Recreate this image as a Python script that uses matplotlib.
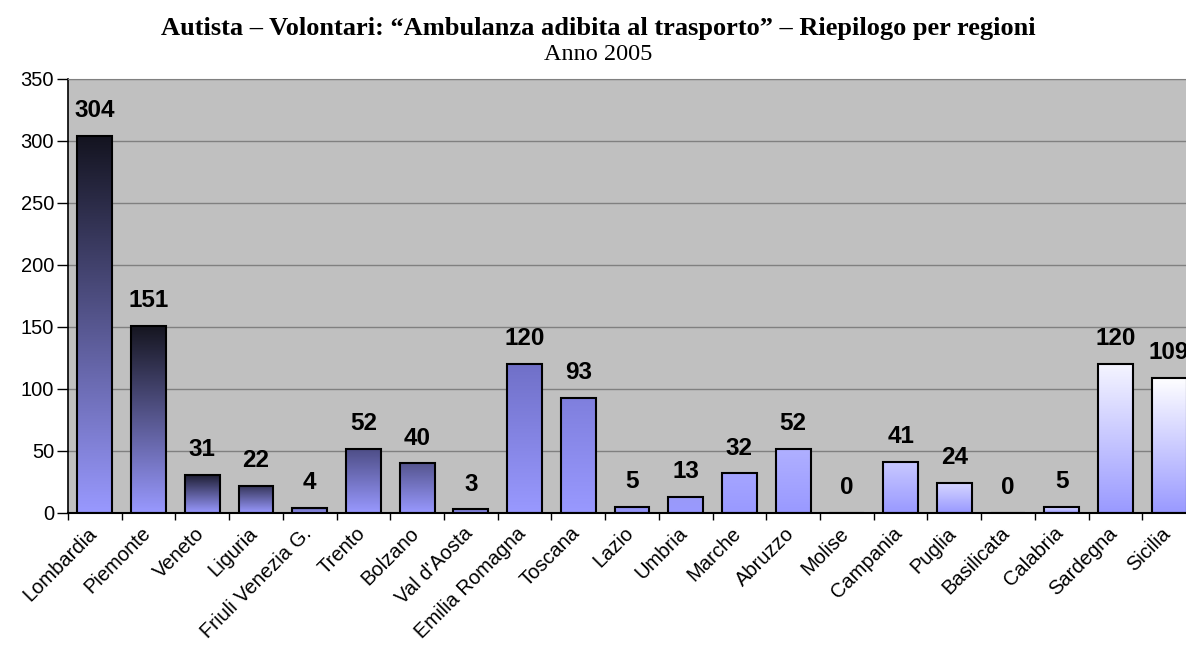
import numpy as np
import matplotlib
matplotlib.use("Agg")
import matplotlib.pyplot as plt
import matplotlib.transforms as mtransforms
from matplotlib.colors import LinearSegmentedColormap

regions = ["Lombardia", "Piemonte", "Veneto", "Liguria", "Friuli Venezia G.",
           "Trento", "Bolzano", "Val d'Aosta", "Emilia Romagna", "Toscana",
           "Lazio", "Umbria", "Marche", "Abruzzo", "Molise", "Campania",
           "Puglia", "Basilicata", "Calabria", "Sardegna", "Sicilia"]
values = [304, 151, 31, 22, 4, 52, 40, 3, 120, 93, 5, 13, 32, 52, 0, 41, 24, 0, 5, 120, 109]
yticks = [0, 50, 100, 150, 200, 250, 300, 350]

# colour at the top of each bar (bottom is always light blue)
top_colors = ["#141420", "#15151f", "#1c1c30", "#333355", "#6a6ab0",
              "#4d4d85", "#55558f", "#7070c0", "#7070c8", "#7f7fdd",
              "#9090ee", "#9a9af8", "#a5a5ff", "#b0b0ff", "#bbbbff",
              "#c8c8ff", "#d5d5ff", "#dcdcff", "#e6e6ff", "#f5f5ff", "#ffffff"]
bottom_color = "#9999ff"

plt.rcParams['font.family'] = ['Liberation Sans', 'DejaVu Sans']

fig = plt.figure(figsize=(11.86, 6.66), dpi=100)
ax = fig.add_axes([68/1186, 1-513/666, (1196-68)/1186, (513-79)/666])
ax.set_facecolor("#c0c0c0")

x = np.arange(len(regions))
bars = ax.bar(x, values, width=0.65, color="none", edgecolor="black", linewidth=1.5, zorder=3)

grad = np.linspace(0, 1, 256).reshape(-1, 1)
for b, tc in zip(bars, top_colors):
    h = b.get_height()
    if h <= 0:
        continue
    cmap = LinearSegmentedColormap.from_list("g", [bottom_color, tc])
    im = ax.imshow(grad, cmap=cmap, origin="lower", aspect="auto",
                   extent=[b.get_x(), b.get_x() + b.get_width(), 0, h], zorder=2)
    im.set_clip_path(b)

for xi, v in zip(x, values):
    ax.annotate(str(v), (xi, v), xytext=(0, 13.5), textcoords="offset points",
                ha="center", va="baseline", fontsize=17.5, fontweight="bold")

ax.set_xlim(-0.5, len(regions) - 0.5)
ax.set_ylim(0, 350)
ax.set_yticks(yticks)
ax.tick_params(axis="y", labelsize=14.5, length=8, width=1, pad=2)
ax.yaxis.grid(True, color="#808080", linewidth=1, zorder=0)
ax.set_axisbelow(True)

ax.set_xticks(np.arange(len(regions) + 1) - 0.5)
ax.set_xticklabels([])
ax.tick_params(axis="x", which="major", length=5, width=1)
ax.set_xticks(x, minor=True)
ax.set_xticklabels(regions, minor=True, rotation=45, ha="right", va="top",
                   rotation_mode="anchor", fontsize=14.5)
ax.tick_params(axis="x", which="minor", length=0, pad=12)
shift = mtransforms.ScaledTranslation(-8/100, 6/100, fig.dpi_scale_trans)
for lab in ax.get_xticklabels(minor=True):
    lab.set_transform(lab.get_transform() + shift)

ax.spines["top"].set_color("#808080")
ax.spines["left"].set_linewidth(1.2)
ax.spines["bottom"].set_linewidth(1.5)

fig.text(598/1186, 1-28/666, "Autista \u2013 Volontari: \u201cAmbulanza adibita al trasporto\u201d \u2013 Riepilogo per regioni",
         ha="center", va="center", fontsize=19, fontweight="bold", family="Liberation Serif")
fig.text(598/1186, 1-54/666, "Anno 2005", ha="center", va="center", fontsize=17.5, family="Liberation Serif")

fig.savefig("out.png", dpi=100)
